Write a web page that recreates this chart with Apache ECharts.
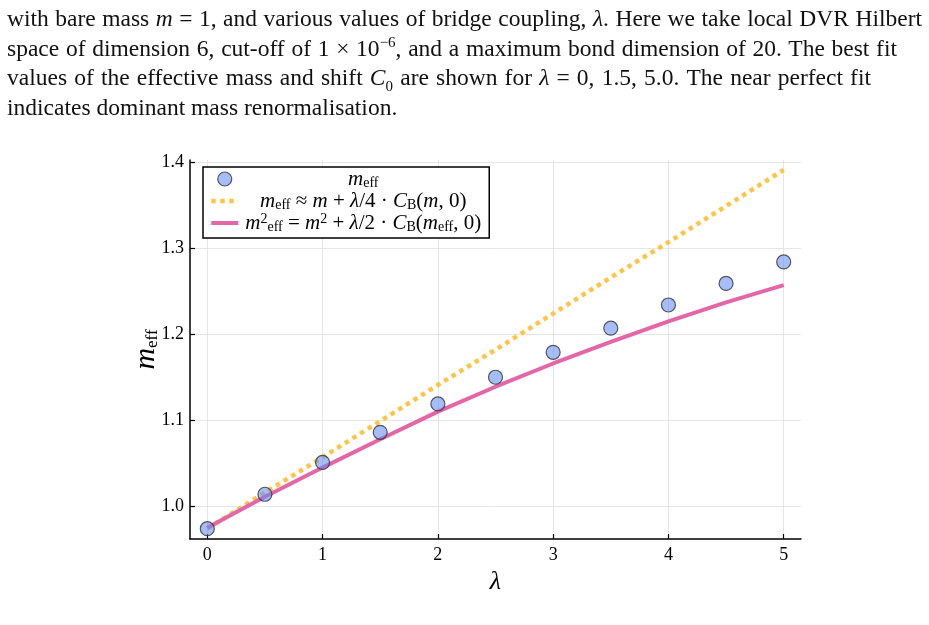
<!DOCTYPE html>
<html>
<head>
<meta charset="utf-8">
<script src="https://cdn.jsdelivr.net/npm/echarts@6/dist/echarts.min.js"></script>
<style>
  html, body { margin: 0; padding: 0; background: #fff; }
  #chart { position: absolute; left: 0; top: 0; width: 929px; height: 625px; }
  #para {
    position: absolute; left: 7px; top: 4px; z-index: 2;
    font-family: 'Liberation Serif', serif; font-size: 23.5px; line-height: 29.5px; color: #111;
  }
  #para .ln { text-align: justify; text-align-last: justify; white-space: nowrap; }
  #para sup, #para sub { font-size: 15px; line-height: 0; }
</style>
</head>
<body>
<div id="chart"></div>
<div id="para">
  <div class="ln" style="width:915px">with bare mass <i>m</i> = 1, and various values of bridge coupling, <i>λ</i>. Here we take local DVR Hilbert</div>
  <div class="ln" style="width:890px">space of dimension 6, cut-off of 1 × 10<sup>−6</sup>, and a maximum bond dimension of 20. The best fit</div>
  <div class="ln" style="width:864px">values of the effective mass and shift <i>C</i><sub>0</sub> are shown for <i>λ</i> = 0, 1.5, 5.0. The near perfect fit</div>
  <div>indicates dominant mass renormalisation.</div>
</div>
<script>
// bridge coupling values
var lambdas = [0, 0.5, 1, 1.5, 2, 2.5, 3, 3.5, 4, 4.5, 5];
// measured effective mass (circles)
var meff = [0.974, 1.014, 1.051, 1.086, 1.119, 1.150, 1.179, 1.207, 1.234, 1.259, 1.284];
// first order approximation (yellow dotted)
var approx = [0.974, 1.016, 1.057, 1.099, 1.141, 1.182, 1.224, 1.266, 1.307, 1.349, 1.391];
// self consistent curve (pink)
var exact = [0.975, 1.011, 1.045, 1.078, 1.110, 1.139, 1.166, 1.191, 1.215, 1.237, 1.257];
var xTicks = [0, 1, 2, 3, 4, 5];
var yTicks = [1.0, 1.1, 1.2, 1.3, 1.4];

var serif = 'Liberation Serif';
function pairs(ys) {
    return lambdas.map(function (x, i) { return [x, ys[i]]; });
}

var myChart = echarts.init(document.getElementById('chart'));

var legendText = {
    'meff': '{i|m}{s|eff}',
    'approx': '{i|m}{s|eff}{r| ≈ }{i|m}{r| + }{i|λ}{r|/4 · }{i|C}{s|B}{r|(}{i|m}{r|, 0)}',
    'exact': '{i|m}{p|2}{s|eff}{r| = }{i|m}{p|2}{r| + }{i|λ}{r|/2 · }{i|C}{s|B}{r|(}{i|m}{s|eff}{r|, 0)}'
};
var hideSym = { color: 'rgba(0,0,0,0)', borderWidth: 0, opacity: 0 };

var option = {
    backgroundColor: '#fff',
    animation: false,
    grid: { left: 190, right: 128, top: 160, bottom: 86 },
    legend: {
        left: 203, top: 167,
        orient: 'vertical',
        backgroundColor: '#fff',
        borderColor: '#000',
        borderWidth: 1.5,
        borderRadius: 0,
        padding: [1, 8, 4, 6],
        itemWidth: 27,
        itemHeight: 14,
        itemGap: 0,
        data: [
            { name: 'meff', itemStyle: { borderWidth: 1.2, borderColor: '#333' } },
            { name: 'approx', itemStyle: hideSym, lineStyle: { width: 4.5 } },
            { name: 'exact', itemStyle: hideSym, lineStyle: { width: 4 } }
        ],
        formatter: function (name) { return legendText[name]; },
        textStyle: {
            width: 240,
            color: '#000',
            rich: {
                r: { fontFamily: serif, fontSize: 21, lineHeight: 18, align: 'center', color: '#000' },
                i: { fontFamily: serif, fontStyle: 'italic', fontSize: 21, lineHeight: 18, align: 'center', color: '#000' },
                s: { fontFamily: serif, fontSize: 14, lineHeight: 10, padding: [8, 0, 0, 0], align: 'center', color: '#000' },
                p: { fontFamily: serif, fontSize: 14, lineHeight: 10, padding: [0, 0, 8, 0], align: 'center', color: '#000' }
            }
        }
    },
    xAxis: {
        type: 'value',
        min: -0.15, max: 5.15,
        name: 'λ',
        nameLocation: 'middle',
        nameGap: 26,
        nameTextStyle: { fontFamily: serif, fontStyle: 'italic', fontSize: 26, color: '#000' },
        axisLine: { onZero: false, lineStyle: { color: '#000', width: 1.5 } },
        axisTick: { inside: true, length: 5, customValues: xTicks, lineStyle: { color: '#000', width: 1.2 } },
        axisLabel: { customValues: xTicks, margin: 7, fontFamily: serif, fontSize: 18, color: '#000' },
        splitLine: { show: true, lineStyle: { color: '#e6e6e6', width: 1 } }
    },
    yAxis: {
        type: 'value',
        min: 0.962, max: 1.4025,
        name: '{i|m}{s|eff}',
        nameLocation: 'middle',
        nameRotate: 90,
        nameGap: 29,
        nameMoveOverlap: false,
        nameTextStyle: {
            rich: {
                i: { fontFamily: serif, fontStyle: 'italic', fontSize: 30, lineHeight: 30, color: '#000' },
                s: { fontFamily: serif, fontSize: 17, lineHeight: 17, padding: [13, 0, 0, 0], color: '#000' }
            }
        },
        axisLine: { show: true, onZero: false, lineStyle: { color: '#000', width: 1.5 } },
        axisTick: { show: true, inside: true, length: 5, customValues: yTicks, lineStyle: { color: '#000', width: 1.2 } },
        axisLabel: {
            customValues: yTicks, margin: 6, fontFamily: serif, fontSize: 18, color: '#000',
            formatter: function (v) { return v.toFixed(1); }
        },
        splitLine: { show: true, lineStyle: { color: '#e6e6e6', width: 1 } }
    },
    series: [
        {
            name: 'meff',
            type: 'scatter',
            z: 5,
            symbol: 'circle',
            symbolSize: 14,
            data: pairs(meff),
            itemStyle: { color: 'rgba(99,141,245,0.72)', borderColor: '#333', borderWidth: 1.2 }
        },
        {
            name: 'approx',
            type: 'line',
            symbol: 'none',
            data: pairs(approx),
            itemStyle: { color: '#FFC445' },
            lineStyle: { color: '#FFC445', width: 4.5, type: [4.5, 4.5], cap: 'butt' }
        },
        {
            name: 'exact',
            type: 'line',
            symbol: 'none',
            data: pairs(exact),
            itemStyle: { color: '#E466A6' },
            lineStyle: { color: '#E466A6', width: 4 }
        }
    ]
};
option && myChart.setOption(option);
</script>
</body>
</html>
